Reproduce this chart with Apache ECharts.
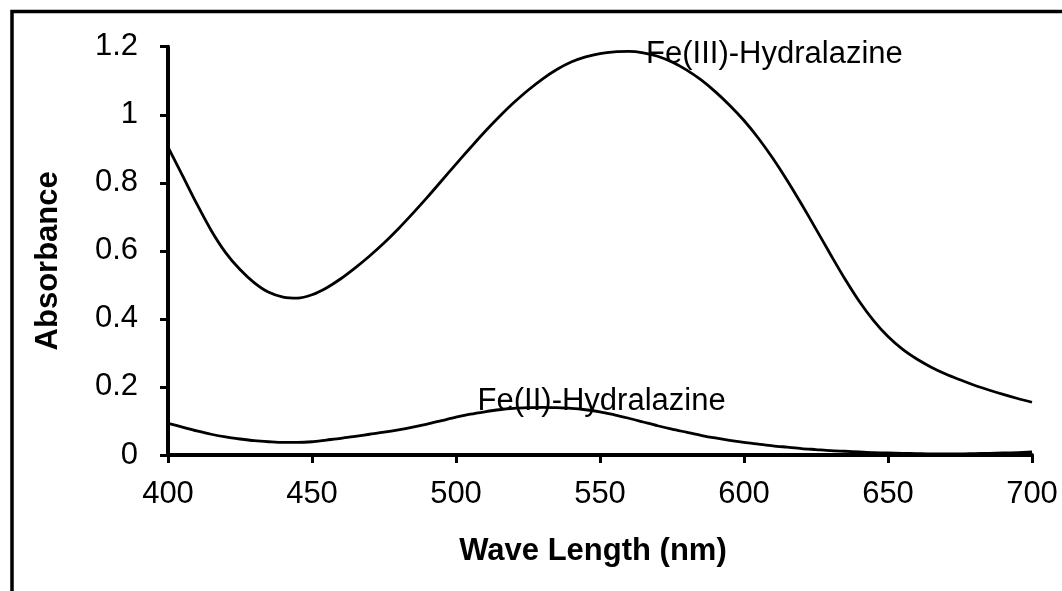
<!DOCTYPE html>
<html>
<head>
<meta charset="utf-8">
<script src="https://cdn.jsdelivr.net/npm/echarts@6/dist/echarts.min.js"></script>
<style>
html,body{margin:0;padding:0;background:#fff;}
#chart{width:1062px;height:591px;}
</style>
</head>
<body>
<div id="chart"></div>
<script>
// Data (5 nm steps)
var wavelengths = [400,405,410,415,420,425,430,435,440,445,450,455,460,465,470,475,480,485,490,495,
                   500,505,510,515,520,525,530,535,540,545,550,555,560,565,570,575,580,585,590,595,
                   600,605,610,615,620,625,630,635,640,645,650,655,660,665,670,675,680,685,690,695,700];
var fe3Values = [0.905,0.822,0.738,0.660,0.595,0.545,0.506,0.478,0.464,0.461,0.471,0.491,0.518,0.550,0.585,0.623,0.665,0.710,0.757,0.806,
                 0.855,0.903,0.950,0.994,1.035,1.072,1.105,1.133,1.155,1.170,1.180,1.185,1.186,1.182,1.172,1.155,1.132,1.103,1.068,1.028,
                 0.983,0.931,0.872,0.807,0.737,0.664,0.590,0.518,0.452,0.395,0.348,0.311,0.282,0.258,0.238,0.221,0.205,0.191,0.178,0.166,0.155];
var fe2Values = [0.093,0.082,0.071,0.061,0.053,0.047,0.042,0.039,0.037,0.037,0.039,0.044,0.049,0.055,0.061,0.067,0.074,0.082,0.091,0.101,
                 0.111,0.120,0.127,0.133,0.137,0.139,0.140,0.139,0.137,0.133,0.127,0.118,0.108,0.097,0.086,0.076,0.067,0.058,0.050,0.043,
                 0.037,0.032,0.027,0.023,0.019,0.016,0.013,0.011,0.009,0.007,0.006,0.005,0.004,0.003,0.003,0.003,0.004,0.005,0.006,0.007,0.009];
var seriesNames = ['Fe(III)-Hydralazine','Fe(II)-Hydralazine'];
var labelAnchors = [[566,1.178],[507.5,0.156]];
var xTicks = {min:400, max:700, interval:50};
var yTicks = {min:0, max:1.2, interval:0.2};
var xTitle = 'Wave Length (nm)';
var yTitle = 'Absorbance';

function pairs(xs, ys){ return xs.map(function(x,i){return [x, ys[i]];}); }

var font = 'Liberation Sans, Arial, sans-serif';
var chart = echarts.init(document.getElementById('chart'), null, {renderer:'canvas'});

function mkSeries(name, vals, anchor){
  return {
    name: name,
    type: 'line',
    data: pairs(wavelengths, vals),
    smooth: 0.3,
    showSymbol: false,
    symbol: 'none',
    lineStyle: {color:'#000', width:2.8},
    z: 3,
    animation: false,
    markPoint: {
      symbol: 'circle',
      symbolSize: 0,
      silent: true,
      data: [{coord: anchor, value: name}],
      label: {
        show: true,
        position: 'right',
        distance: 0,
        formatter: name,
        color: '#000',
        fontFamily: font,
        fontSize: 31
      }
    }
  };
}

chart.setOption({
  backgroundColor: '#fff',
  animation: false,
  grid: {left:168, right:30, top:46.7, bottom:136, containLabel:false},
  xAxis: {
    type: 'value',
    min: xTicks.min, max: xTicks.max, interval: xTicks.interval,
    name: xTitle,
    nameLocation: 'middle',
    nameGap: 81,
    nameTextStyle: {color:'#000', fontFamily:font, fontSize:31, fontWeight:'bold', padding:[0,14,0,0]},
    axisLine: {show:true, lineStyle:{color:'#000', width:4}},
    axisTick: {show:true, inside:false, length:8, lineStyle:{color:'#000', width:3}},
    axisLabel: {color:'#000', fontFamily:font, fontSize:31, margin:24},
    splitLine: {show:false}
  },
  yAxis: {
    type: 'value',
    min: yTicks.min, max: yTicks.max, interval: yTicks.interval,
    name: yTitle,
    nameLocation: 'middle',
    nameGap: 104,
    nameRotate: 90,
    nameTextStyle: {color:'#000', fontFamily:font, fontSize:31, fontWeight:'bold', padding:[0,20,0,0]},
    axisLine: {show:true, lineStyle:{color:'#000', width:4}},
    axisTick: {show:true, inside:false, length:8, lineStyle:{color:'#000', width:3}},
    axisLabel: {color:'#000', fontFamily:font, fontSize:31, margin:30},
    splitLine: {show:false}
  },
  series: [
    mkSeries(seriesNames[0], fe3Values, labelAnchors[0]),
    mkSeries(seriesNames[1], fe2Values, labelAnchors[1])
  ],
  graphic: [{
    type: 'rect',
    silent: true,
    shape: {x:12, y:11.5, width:1200, height:800},
    style: {fill:'none', stroke:'#000', lineWidth:3.5},
    z: 100
  }]
});
</script>
</body>
</html>
